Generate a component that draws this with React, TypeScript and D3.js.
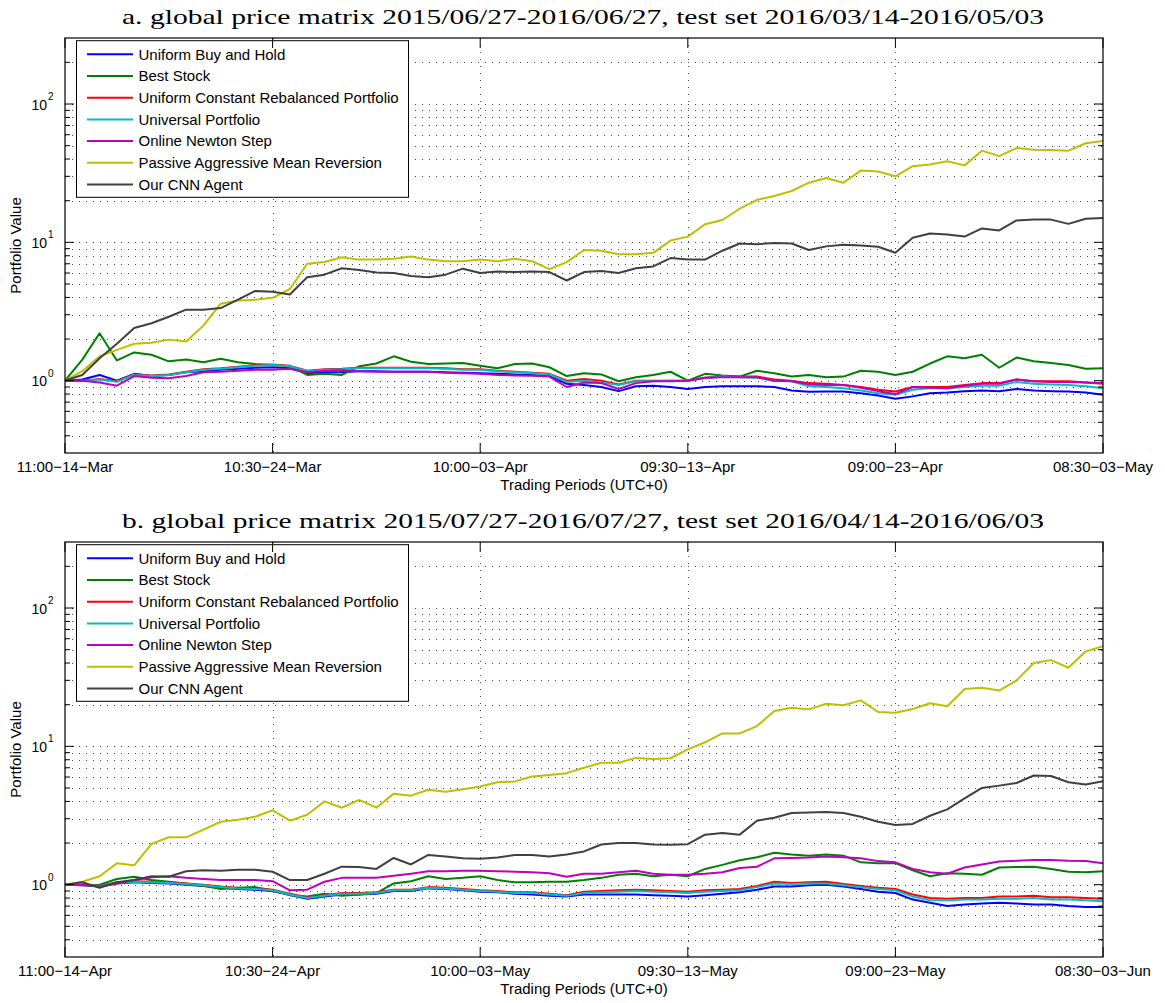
import React from 'react';
import * as d3 from 'd3';

const W = 1165;
const H = 1003;

const seriesNames = [
  'Uniform Buy and Hold',
  'Best Stock',
  'Uniform Constant Rebalanced Portfolio',
  'Universal Portfolio',
  'Online Newton Step',
  'Passive Aggressive Mean Reversion',
  'Our CNN Agent',
];
const seriesColors = ['#0000ff', '#008000', '#ff0000', '#00bfbf', '#bf00bf', '#bfbf00', '#404040'];

const titleA = 'a. global price matrix 2015/06/27-2016/06/27, test set 2016/03/14-2016/05/03';
const titleB = 'b. global price matrix 2015/07/27-2016/07/27, test set 2016/04/14-2016/06/03';
const tickLabelsA = ['11:00\u221214\u2212Mar', '10:30\u221224\u2212Mar', '10:00\u221203\u2212Apr', '09:30\u221213\u2212Apr', '09:00\u221223\u2212Apr', '08:30\u221203\u2212May'];
const tickLabelsB = ['11:00\u221214\u2212Apr', '10:30\u221224\u2212Apr', '10:00\u221203\u2212May', '09:30\u221213\u2212May', '09:00\u221223\u2212May', '08:30\u221203\u2212Jun'];
const tickIdx = [0, 12, 24, 36, 48, 60];
const yMajor = [1, 10, 100];
const yDomain = [0.3, 300];
const xLabel = 'Trading Periods (UTC+0)';
const yLabel = 'Portfolio Value';

// Panel a (61 samples, evenly spaced over the test period)
const aBlue = [1.0,1.02,1.1,1.0,1.12,1.08,1.1,1.15,1.17,1.2,1.22,1.24,1.25,1.23,1.13,1.15,1.15,1.17,1.17,1.16,1.16,1.16,1.15,1.14,1.13,1.12,1.11,1.1,1.08,0.95,0.93,0.9,0.84,0.91,0.92,0.9,0.87,0.9,0.91,0.91,0.91,0.9,0.85,0.83,0.835,0.835,0.81,0.78,0.74,0.77,0.81,0.82,0.84,0.85,0.84,0.87,0.85,0.84,0.835,0.82,0.79];
const aGreen = [1.0,1.42,2.2,1.4,1.6,1.54,1.38,1.42,1.36,1.44,1.36,1.32,1.3,1.27,1.1,1.12,1.1,1.27,1.33,1.5,1.37,1.32,1.33,1.34,1.28,1.23,1.32,1.33,1.25,1.08,1.13,1.11,0.99,1.06,1.1,1.16,1.0,1.12,1.09,1.07,1.18,1.13,1.07,1.1,1.06,1.07,1.18,1.16,1.1,1.16,1.33,1.5,1.45,1.54,1.24,1.47,1.38,1.34,1.3,1.22,1.23];
const aRed = [1.0,1.0,1.03,0.99,1.11,1.09,1.11,1.16,1.21,1.23,1.26,1.29,1.31,1.28,1.18,1.21,1.22,1.24,1.24,1.24,1.24,1.24,1.23,1.21,1.21,1.18,1.16,1.14,1.12,1.0,1.03,1.0,0.94,1.0,1.0,1.0,1.0,1.05,1.07,1.07,1.07,1.02,1.0,0.96,0.95,0.93,0.9,0.86,0.835,0.9,0.9,0.9,0.93,0.96,0.96,1.02,0.99,0.99,0.99,0.97,0.95];
const aCyan = [1.0,1.0,1.02,0.98,1.1,1.08,1.1,1.15,1.2,1.22,1.25,1.28,1.3,1.27,1.17,1.2,1.21,1.23,1.23,1.23,1.23,1.23,1.22,1.2,1.2,1.17,1.15,1.13,1.11,0.98,1.0,0.97,0.93,0.99,0.99,1.0,1.0,1.04,1.07,1.06,1.05,1.0,0.99,0.91,0.9,0.88,0.85,0.81,0.79,0.86,0.88,0.88,0.9,0.92,0.92,0.98,0.95,0.94,0.93,0.91,0.88];
const aMagenta = [1.0,1.0,0.97,0.92,1.08,1.05,1.04,1.08,1.15,1.16,1.18,1.2,1.2,1.22,1.15,1.18,1.19,1.17,1.16,1.16,1.16,1.16,1.14,1.13,1.12,1.1,1.09,1.085,1.07,0.9,0.97,0.96,0.87,0.96,0.99,0.99,1.0,1.05,1.06,1.06,1.06,1.0,0.99,0.94,0.93,0.93,0.89,0.84,0.8,0.9,0.89,0.88,0.92,0.95,0.95,1.02,0.99,0.98,0.98,0.97,0.96];
const aYellow = [1.0,1.17,1.5,1.67,1.85,1.88,1.98,1.92,2.5,3.6,3.8,3.85,3.97,4.6,7.0,7.2,7.8,7.5,7.5,7.6,7.9,7.5,7.3,7.3,7.5,7.3,7.6,7.3,6.4,7.2,8.8,8.7,8.2,8.2,8.4,10.3,11.0,13.5,14.5,17.5,20.3,21.6,23.5,27,29.2,27,33,32.5,30,35.5,36.5,38.5,36,46,42,48,46.7,46.5,46,52,54];
const aBlack = [1.0,1.1,1.45,1.85,2.4,2.6,2.9,3.26,3.26,3.35,3.85,4.45,4.4,4.2,5.6,5.84,6.5,6.3,6.05,6.0,5.7,5.6,5.84,6.45,6.0,6.15,6.1,6.16,6.1,5.3,6.1,6.2,6.0,6.5,6.7,7.7,7.5,7.5,8.7,9.8,9.7,9.9,9.8,8.8,9.35,9.6,9.5,9.3,8.4,10.8,11.6,11.4,11.0,12.6,12.2,14.4,14.6,14.6,13.6,14.8,15];

// Panel b
const bBlue = [1.0,0.99,0.97,1.02,1.04,1.03,1.02,1.0,0.98,0.95,0.93,0.92,0.9,0.84,0.79,0.82,0.85,0.85,0.86,0.9,0.9,0.94,0.93,0.91,0.89,0.88,0.86,0.85,0.83,0.82,0.85,0.85,0.85,0.85,0.84,0.83,0.82,0.84,0.86,0.88,0.92,0.97,0.97,0.99,1.0,0.97,0.93,0.89,0.87,0.78,0.74,0.7,0.72,0.73,0.74,0.73,0.72,0.72,0.7,0.69,0.69];
const bGreen = [1.0,0.99,1.0,1.1,1.14,1.08,1.05,1.02,0.98,0.93,0.95,0.96,0.91,0.84,0.82,0.86,0.83,0.85,0.87,1.02,1.06,1.15,1.1,1.12,1.15,1.08,1.04,1.04,1.05,1.05,1.08,1.12,1.18,1.2,1.15,1.18,1.15,1.3,1.39,1.5,1.58,1.7,1.65,1.62,1.65,1.62,1.45,1.43,1.43,1.27,1.15,1.21,1.2,1.18,1.33,1.34,1.35,1.3,1.24,1.23,1.25];
const bRed = [1.0,1.0,0.98,1.04,1.06,1.05,1.04,1.02,1.0,0.97,0.95,0.94,0.92,0.86,0.81,0.84,0.87,0.87,0.88,0.92,0.92,0.96,0.95,0.93,0.91,0.9,0.88,0.88,0.86,0.84,0.89,0.9,0.91,0.92,0.91,0.9,0.89,0.91,0.92,0.93,0.98,1.05,1.03,1.04,1.05,1.01,0.98,0.95,0.93,0.85,0.8,0.79,0.8,0.8,0.82,0.82,0.83,0.81,0.81,0.8,0.79];
const bCyan = [1.0,1.0,0.98,1.03,1.05,1.04,1.03,1.01,0.99,0.96,0.94,0.93,0.91,0.85,0.8,0.83,0.86,0.86,0.87,0.91,0.91,0.95,0.94,0.92,0.9,0.89,0.87,0.87,0.85,0.83,0.87,0.88,0.89,0.9,0.89,0.88,0.87,0.89,0.9,0.91,0.96,1.02,1.01,1.02,1.02,0.99,0.96,0.93,0.91,0.82,0.77,0.77,0.78,0.78,0.79,0.79,0.8,0.78,0.78,0.77,0.76];
const bMagenta = [1.0,1.0,0.97,1.02,1.08,1.13,1.15,1.12,1.1,1.08,1.08,1.08,1.06,0.91,0.92,1.05,1.12,1.12,1.12,1.16,1.2,1.25,1.25,1.26,1.26,1.25,1.24,1.23,1.21,1.14,1.2,1.2,1.23,1.26,1.2,1.18,1.18,1.2,1.23,1.32,1.35,1.55,1.56,1.57,1.6,1.58,1.55,1.48,1.45,1.3,1.23,1.2,1.33,1.4,1.47,1.49,1.51,1.51,1.49,1.48,1.43];
const bYellow = [1.0,1.05,1.15,1.43,1.38,1.97,2.2,2.2,2.5,2.85,2.95,3.1,3.45,2.9,3.2,4.0,3.6,4.1,3.6,4.55,4.4,4.86,4.7,4.9,5.13,5.5,5.58,6.05,6.2,6.4,7.0,7.6,7.6,8.25,8.1,8.2,9.5,10.7,12.4,12.4,14,18,19.0,18.5,20.3,19.8,21.5,17.7,17.5,18.6,20.5,19.5,26,26.5,25.3,30,40,42,37,48.6,53];
const bBlack = [1.0,1.04,0.95,1.04,1.08,1.15,1.14,1.25,1.27,1.26,1.28,1.28,1.24,1.08,1.08,1.2,1.35,1.34,1.3,1.56,1.4,1.64,1.6,1.55,1.54,1.57,1.64,1.64,1.6,1.65,1.74,1.95,2.0,2.0,1.95,1.94,1.96,2.3,2.36,2.3,2.9,3.05,3.3,3.32,3.35,3.3,3.1,2.85,2.7,2.75,3.15,3.5,4.2,5.0,5.2,5.43,6.15,6.1,5.5,5.3,5.6];

const seriesA = [aBlue, aGreen, aRed, aCyan, aMagenta, aYellow, aBlack];
const seriesB = [bBlue, bGreen, bRed, bCyan, bMagenta, bYellow, bBlack];

const LEFT = 65;
const RIGHT = 1103;
const PH = 415;
const SANS = '"Liberation Sans", Arial, Helvetica, sans-serif';
const SERIF = '"Liberation Serif", "Times New Roman", serif';

function Panel({ top, title, labels, series, id }: any) {
  const x = d3.scaleLinear().domain([0, 60]).range([LEFT, RIGHT]);
  const y = d3.scaleLog().domain(yDomain).range([top + PH, top]);
  const gridVals: number[] = [];
  for (let e = -1; e <= 2; e++) {
    for (let k = 1; k <= 9; k++) {
      const v = k * Math.pow(10, e);
      if (v > yDomain[0] * 1.001 && v < yDomain[1] * 0.999) gridVals.push(v);
    }
  }
  const isMajor = (v: number) => yMajor.some((m) => Math.abs(m - v) < 1e-9);
  const line = d3
    .line<number>()
    .x((_, i) => x(i))
    .y((d) => y(d));
  const dot = '1 6';
  const legX = LEFT + 11.5;
  const legY = top + 2.7;
  const rowH = 21.7;
  return (
    <g>
      <defs>
        <clipPath id={`clip-${id}`}>
          <rect x={LEFT} y={top} width={RIGHT - LEFT} height={PH} />
        </clipPath>
      </defs>
      <text
        x={(LEFT + RIGHT) / 2 - 1}
        y={top - 14}
        textAnchor="middle"
        fontFamily={SERIF}
        fontSize={22}
        textLength={922}
        lengthAdjust="spacingAndGlyphs"
        fill="#000"
      >
        {title}
      </text>
      <rect x={LEFT} y={top} width={RIGHT - LEFT} height={PH} fill="#fff" />
      {gridVals.map((v) => (
        <line
          key={`h${v}`}
          x1={LEFT}
          x2={RIGHT}
          y1={Math.round(y(v)) + 0.5}
          y2={Math.round(y(v)) + 0.5}
          stroke="#444"
          strokeWidth={1}
          strokeDasharray={dot}
        />
      ))}
      {tickIdx.slice(1, -1).map((t) => (
        <line
          key={`v${t}`}
          x1={Math.round(x(t)) + 0.5}
          x2={Math.round(x(t)) + 0.5}
          y1={top}
          y2={top + PH}
          stroke="#444"
          strokeWidth={1}
          strokeDasharray={dot}
        />
      ))}
      <g clipPath={`url(#clip-${id})`}>
        {series.map((s: number[], i: number) => (
          <path
            key={i}
            d={line(s) || ''}
            fill="none"
            stroke={seriesColors[i]}
            strokeWidth={2}
            strokeLinejoin="round"
          />
        ))}
      </g>
      <rect x={legX} y={legY} width={332} height={156.6} fill="#fff" stroke="#000" strokeWidth={1} />
      {seriesNames.map((n, i) => (
        <g key={n}>
          <line
            x1={legX + 10.5}
            x2={legX + 56.5}
            y1={top + 16.3 + i * rowH}
            y2={top + 16.3 + i * rowH}
            stroke={seriesColors[i]}
            strokeWidth={2}
          />
          <text x={legX + 62} y={top + 16.3 + i * rowH + 5.3} fontFamily={SANS} fontSize={15} fill="#000">
            {n}
          </text>
        </g>
      ))}
      <rect x={LEFT} y={top} width={RIGHT - LEFT} height={PH} fill="none" stroke="#000" strokeWidth={1.2} />
      {gridVals.map((v) => {
        const len = isMajor(v) ? 9 : 5;
        const yy = y(v);
        return (
          <g key={`t${v}`}>
            <line x1={LEFT} x2={LEFT + len} y1={yy} y2={yy} stroke="#000" strokeWidth={1} />
            <line x1={RIGHT} x2={RIGHT - len} y1={yy} y2={yy} stroke="#000" strokeWidth={1} />
          </g>
        );
      })}
      {tickIdx.map((t, i) => (
        <g key={`xt${t}`}>
          <line x1={x(t)} x2={x(t)} y1={top + PH} y2={top + PH - 10} stroke="#000" strokeWidth={1} />
          <line x1={x(t)} x2={x(t)} y1={top} y2={top + 10} stroke="#000" strokeWidth={1} />
          <text x={x(t)} y={top + 434} textAnchor="middle" fontFamily={SANS} fontSize={15} fill="#000">
            {labels[i]}
          </text>
        </g>
      ))}
      {yMajor.map((m) => (
        <g key={`yl${m}`}>
          <text x={47} y={y(m) + 5.5} textAnchor="end" fontFamily={SANS} fontSize={14} fill="#000">
            10
          </text>
          <text x={48} y={y(m) - 4} fontFamily={SANS} fontSize={10} fill="#000">
            {String(Math.round(Math.log10(m)))}
          </text>
        </g>
      ))}
      <text x={(LEFT + RIGHT) / 2} y={top + 452} textAnchor="middle" fontFamily={SANS} fontSize={15} fill="#000">
        {xLabel}
      </text>
      <text
        transform={`translate(21, ${top + PH / 2}) rotate(-90)`}
        textAnchor="middle"
        fontFamily={SANS}
        fontSize={15}
        fill="#000"
      >
        {yLabel}
      </text>
    </g>
  );
}

export default function App() {
  return (
    <svg
      width={W}
      height={H}
      viewBox={`0 0 ${W} ${H}`}
      style={{ position: 'absolute', left: 0, top: 0, background: '#fff' }}
    >
      <rect x={0} y={0} width={W} height={H} fill="#fff" />
      <Panel id="a" top={38} title={titleA} labels={tickLabelsA} series={seriesA} />
      <Panel id="b" top={542} title={titleB} labels={tickLabelsB} series={seriesB} />
    </svg>
  );
}
